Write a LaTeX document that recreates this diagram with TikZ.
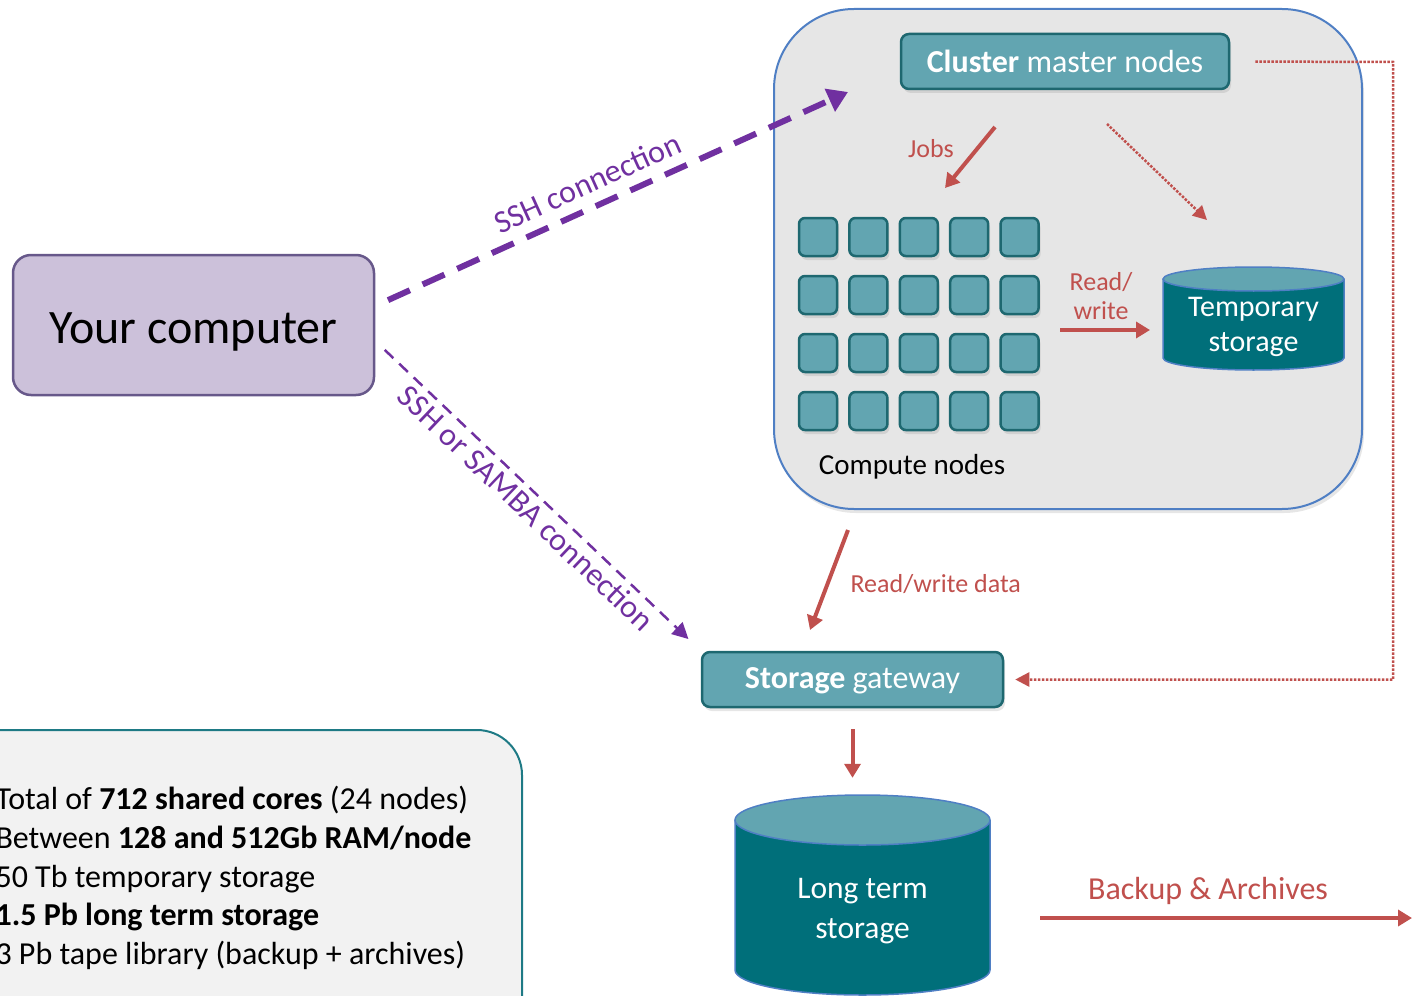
\documentclass[tikz,border=0pt]{standalone}
\usepackage{fontspec}
\setmainfont{Carlito}
\usetikzlibrary{shapes, arrows.meta, shadows, calc, positioning}
\definecolor{hpcpurple}{HTML}{7030A0}
\definecolor{hpcred}{HTML}{C0504D}
\definecolor{hpcteal}{HTML}{62A5B1}
\definecolor{hpctealdark}{HTML}{006F7A}
\definecolor{hpctealline}{HTML}{1E6870}
\definecolor{hpcblue}{HTML}{4F7FC4}
\definecolor{hpclilac}{HTML}{CCC1DA}
\definecolor{hpclilacline}{HTML}{67588A}
\definecolor{hpcgrey}{HTML}{E6E6E6}
\definecolor{hpcpale}{HTML}{F2F2F2}
\definecolor{hpcinfo}{HTML}{1E7A85}

\begin{document}
\begin{tikzpicture}[x=1pt, y=1pt,
    shade/.style={drop shadow={opacity=0.2, shadow xshift=2pt, shadow yshift=-4pt}},
    box/.style={draw=hpctealline, line width=2.5pt, fill=hpcteal, rounded corners=8pt, text=white, minimum height=55pt, shade, font=\fontsize{32}{37}\selectfont},
    cnode/.style={draw=hpctealline, line width=2.5pt, fill=hpcteal, rounded corners=6pt, minimum size=38pt, inner sep=0pt, shade},
    cyltext/.style={text=white, align=center, inner sep=0pt},
    redlbl/.style={text=hpcred, font=\fontsize{26}{29}\selectfont, align=center},
    redarrow/.style={hpcred, line width=4pt, -{Triangle[length=14pt, width=16pt]}},
    reddots/.style={hpcred, line width=2.5pt, dash pattern=on 2.5pt off 1.5pt, -{Triangle[length=14pt, width=14pt]}},
    sshline/.style={hpcpurple, line width=6pt, dash pattern=on 24pt off 14pt, -{Triangle[length=20pt, width=24pt]}},
    sambaline/.style={hpcpurple, line width=2.5pt, dash pattern=on 12pt off 8pt, -{Triangle[length=16pt, width=16pt]}},
    purplelbl/.style={text=hpcpurple, font=\fontsize{32}{37}\selectfont, sloped}]
  \clip (0,0) rectangle (1412,-995);
  \useasboundingbox (0,0) rectangle (1412,-995);

  \node[draw=hpcblue, line width=2pt, fill=hpcgrey, rounded corners=80pt, minimum width=588pt, minimum height=500pt, shade] (cluster) at (1068,-259) {};
  \node[box, minimum width=328pt] (master) at (1065,-61.5) {\textbf{Cluster} master nodes};
  \foreach \i in {1,...,5}
    \foreach \j in {1,...,4}
      \node[cnode] (c\i\j) at ({818+50.4*(\i-1)}, {-237-58*(\j-1)}) {};
  \node[font=\fontsize{29}{34}\selectfont] (computelbl) at (912,-467) {Compute nodes};

  \fill[hpctealdark] (1163,-279) -- (1163,-358) arc[start angle=180, end angle=360, x radius=90.5pt, y radius=12pt] -- (1344,-279) -- cycle;
  \draw[hpcblue, line width=1.5pt] (1163,-279) -- (1163,-358) arc[start angle=180, end angle=360, x radius=90.5pt, y radius=12pt] -- (1344,-279);
  \draw[hpcblue, line width=1.5pt, fill=hpcteal] (1253.5,-279) ellipse[x radius=90.5pt, y radius=12pt];
  \node[cyltext, minimum width=181pt, minimum height=103pt, font=\fontsize{30}{35}\selectfont] (tmp) at (1253.5,-327) {Temporary\\storage};

  \node[box, minimum width=301pt, text height=23pt, text depth=5pt] (gw) at (852.5,-679.5) {\textbf{Storage} gateway};

  \fill[hpctealdark] (735,-820) -- (735,-970) arc[start angle=180, end angle=360, x radius=127.5pt, y radius=25pt] -- (990,-820) -- cycle;
  \draw[hpcblue, line width=1.5pt] (735,-820) -- (735,-970) arc[start angle=180, end angle=360, x radius=127.5pt, y radius=25pt] -- (990,-820);
  \draw[hpcblue, line width=1.5pt, fill=hpcteal] (862.5,-820) ellipse[x radius=127.5pt, y radius=25pt];
  \node[cyltext, minimum width=255pt, minimum height=200pt, font=\fontsize{31.5}{40}\selectfont] (lts) at (862.5,-911) {Long term\\storage};

  \node[draw=hpclilacline, line width=2.5pt, fill=hpclilac, rounded corners=18pt, minimum width=361pt, minimum height=140pt, text height=36pt, text depth=0pt, font=\fontsize{48}{53}\selectfont] (pc) at (193.5,-325) {Your computer};

  \node[draw=hpcinfo, line width=2pt, fill=hpcpale, rounded corners=45pt, minimum width=582pt, minimum height=330pt] (info) at (231,-895) {};
  \node[anchor=west, align=left, font=\fontsize{32}{38.7}\selectfont] (specs) at (-8,-878) {Total of \textbf{712 shared cores} (24 nodes)\\Between \textbf{128 and 512Gb RAM/node}\\50 Tb temporary storage\\\textbf{1.5 Pb long term storage}\\3 Pb tape library (backup + archives)};

  \coordinate (sshend) at (848,-92);
  \coordinate (jobsa) at (995,-127);
  \coordinate (jobsb) at (945,-188);
  \coordinate (tmpa) at (1107,-124);
  \coordinate (tmpb) at (1207,-220);
  \coordinate (rwa) at (1060,-330);
  \coordinate (rwb) at (1150,-330);
  \coordinate (rwda) at (848,-530);
  \coordinate (rwdb) at (810,-630);
  \coordinate (corner) at (1393,-62);
  \coordinate (bka) at (1040,-918);
  \coordinate (bkb) at (1412,-918);

  \draw[sshline, shorten <=14pt] (pc.6) -- node[purplelbl, above, pos=0.47, yshift=7pt] (sshlbl) {SSH connection} (sshend);
  \draw[sambaline, shorten <=13pt, shorten >=17pt] (pc.-5) -- node[purplelbl, below, pos=0.5, yshift=-1pt] (sambalbl) {SSH or SAMBA connection} (gw.north west);

  \draw[redarrow] (jobsa) -- (jobsb);
  \node[redlbl] (jobslbl) at (931,-149) {Jobs};
  \draw[reddots] (tmpa) -- (tmpb);
  \draw[redarrow] (rwa) -- (rwb);
  \node[redlbl] (rwlbl) at (1101,-296) {Read/\\write};
  \draw[redarrow] (rwda) -- (rwdb);
  \node[redlbl, anchor=west] (rwdlbl) at (847,-584) {Read/write data};
  \draw[reddots, shorten <=25pt, shorten >=11pt] (master.east) -- (corner) |- (gw.east);
  \draw[redarrow, shorten <=21pt, shorten >=33pt] (gw.south) -- (gw.south |- lts.north);
  \draw[redarrow] (bka) -- (bkb);
  \node[redlbl, font=\fontsize{32}{37}\selectfont] (bklbl) at (1208,-891) {Backup \& Archives};
\end{tikzpicture}
\end{document}
